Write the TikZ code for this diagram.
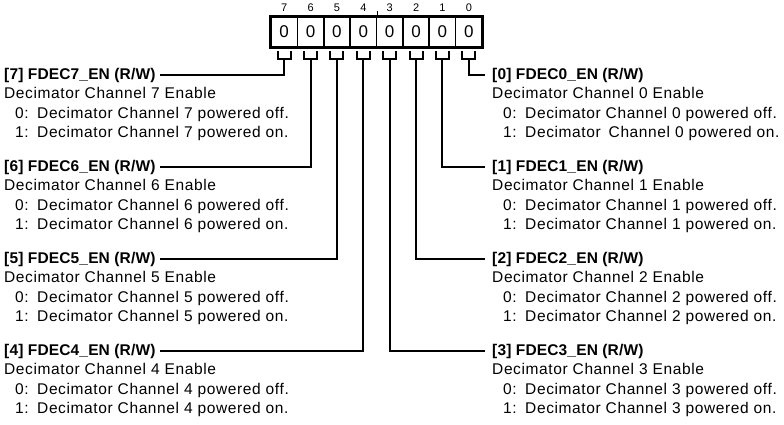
\documentclass[tikz,border=0pt]{standalone}
\usepackage{fontspec}
\setmainfont{Liberation Sans}
\newfontfamily\descfont{Liberation Sans}[LetterSpace=4]
\newfontfamily\fieldfont{Liberation Sans}[LetterSpace=1]
\usetikzlibrary{positioning}
\newcommand{\chanoff}[1]{\hspace*{11pt}\makebox[22pt][l]{0:}Decimator Channel #1 powered off.}
\newcommand{\chanon}[1]{\hspace*{11pt}\makebox[22pt][l]{1:}Decimator Channel #1 powered on.}
\newcommand{\chandesc}[1]{\rule{0pt}{14pt}Decimator Channel #1 Enable\\\chanoff{#1}\\\chanon{#1}}
\tikzset{
  regcell/.style={
    draw,
    line width=1.6pt,
    minimum width=26.375pt,
    minimum height=30pt,
    inner sep=0pt,
    font=\fontsize{17}{17}\selectfont
  },
  bitnum/.style={
    inner sep=0pt,
    font=\fontsize{11}{11}\selectfont
  },
  field/.style={
    anchor=base west,
    inner sep=0pt,
    font=\fieldfont\bfseries\fontsize{15.5}{17}\selectfont
  },
  fielddesc/.style={
    anchor=north west,
    inner sep=0pt,
    align=left,
    font=\descfont\fontsize{15.5}{19.5}\selectfont
  },
  leader/.style={
    line width=2pt,
    draw=black
  }
}
\begin{document}
\begin{tikzpicture}[x=1pt,y=1pt]
  \useasboundingbox (0,0) rectangle (784,-424);

  % register, bit 7 on the left
  \foreach \b in {7,...,0} {
    \node[regcell] (c\b) at ({271+26.375*(7.5-\b)},-32) {0};
    \node[bitnum] (n\b) at ({271+26.375*(7.5-\b)},-8) {\b};
    \draw[leader] ([xshift=-6.5pt,yshift=-3pt]c\b.south) -- ++(0,-8) -- ++(13,0) -- ++(0,8);
  }
  \draw[line width=2.4pt] (c7.north west) rectangle (c0.south east);
  \draw[line width=1.4pt] (c4.north east) -- ++(0,5);

  % left fields
  \node[field] (f7) at (4,-79) {[7] FDEC7\_EN (R/W)};
  \node[field] (f6) at (4,-171) {[6] FDEC6\_EN (R/W)};
  \node[field] (f5) at (4,-263) {[5] FDEC5\_EN (R/W)};
  \node[field] (f4) at (4,-355) {[4] FDEC4\_EN (R/W)};
  \node[fielddesc] (d7) at ([yshift=-5.5pt]f7.base west) {\chandesc{7}};
  \node[fielddesc] (d6) at ([yshift=-5.5pt]f6.base west) {\chandesc{6}};
  \node[fielddesc] (d5) at ([yshift=-5.5pt]f5.base west) {\chandesc{5}};
  \node[fielddesc] (d4) at ([yshift=-5.5pt]f4.base west) {\chandesc{4}};

  % right fields
  \node[field] (f0) at (492,-79) {[0] FDEC0\_EN (R/W)};
  \node[field] (f1) at (492,-171) {[1] FDEC1\_EN (R/W)};
  \node[field] (f2) at (492,-263) {[2] FDEC2\_EN (R/W)};
  \node[field] (f3) at (492,-355) {[3] FDEC3\_EN (R/W)};
  \node[fielddesc] (d0) at ([yshift=-5.5pt]f0.base west)
    {\rule{0pt}{14pt}Decimator Channel 0 Enable\\\chanoff{0}\\
     \hspace*{11pt}\makebox[22pt][l]{1:}Decimator\hspace{3pt} Channel 0 powered on.};
  \node[fielddesc] (d1) at ([yshift=-5.5pt]f1.base west) {\chandesc{1}};
  \node[fielddesc] (d2) at ([yshift=-5.5pt]f2.base west) {\chandesc{2}};
  \node[fielddesc] (d3) at ([yshift=-5.5pt]f3.base west) {\chandesc{3}};

  % leaders from the bits to their fields
  \draw[leader] ([yshift=-11pt]c7.south) |- ([xshift=4pt]f7.east);
  \draw[leader] ([yshift=-11pt]c6.south) |- ([xshift=4pt]f6.east);
  \draw[leader] ([yshift=-11pt]c5.south) |- ([xshift=4pt]f5.east);
  \draw[leader] ([yshift=-11pt]c4.south) |- ([xshift=4pt]f4.east);
  \draw[leader] ([yshift=-11pt]c0.south) |- ([xshift=-7pt]f0.west);
  \draw[leader] ([yshift=-11pt]c1.south) |- ([xshift=-7pt]f1.west);
  \draw[leader] ([yshift=-11pt]c2.south) |- ([xshift=-7pt]f2.west);
  \draw[leader] ([yshift=-11pt]c3.south) |- ([xshift=-7pt]f3.west);
\end{tikzpicture}
\end{document}
